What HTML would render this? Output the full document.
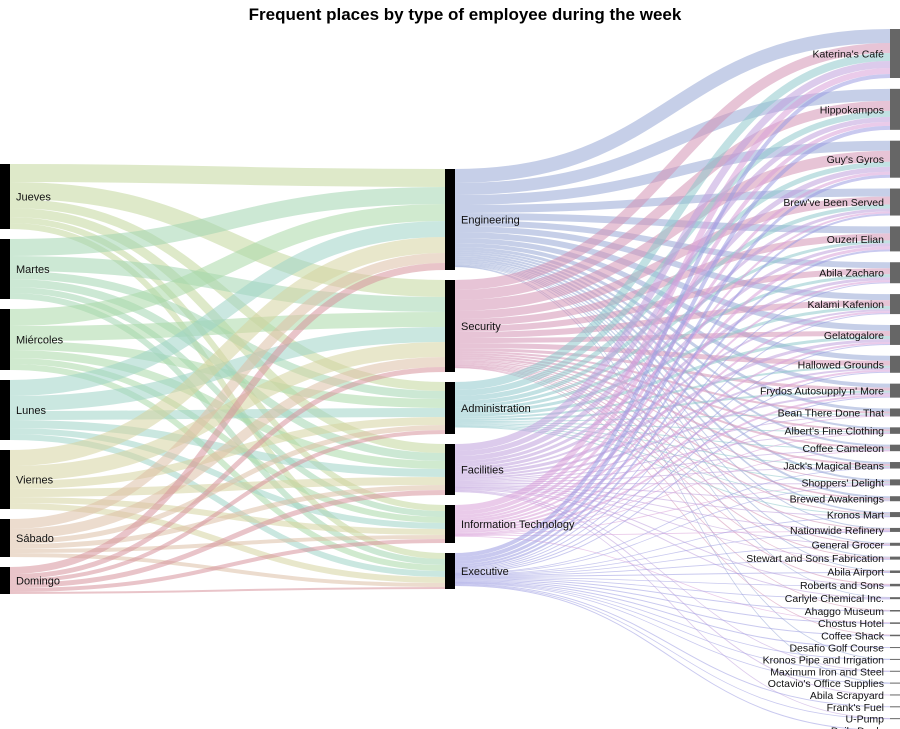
<!DOCTYPE html>
<html><head><meta charset="utf-8">
<style>
html,body{margin:0;padding:0;background:#fff;}
body{width:900px;height:729px;overflow:hidden;font-family:"Liberation Sans",sans-serif;}
#title{position:absolute;left:0;top:5px;width:930px;text-align:center;font-weight:bold;font-size:17px;color:#000;}
svg{position:absolute;left:0;top:0;}
</style></head><body>
<div id="title">Frequent places by type of employee during the week</div>
<svg id="chart" width="900" height="729"></svg>
<script>
const days = ["Jueves","Martes","Miércoles","Lunes","Viernes","Sábado","Domingo"];
const types = ["Engineering","Security","Administration","Facilities","Information Technology","Executive"];
const places = ["Katerina's Café","Hippokampos","Guy's Gyros","Brew've Been Served","Ouzeri Elian","Abila Zacharo","Kalami Kafenion","Gelatogalore","Hallowed Grounds","Frydos Autosupply n' More","Bean There Done That","Albert's Fine Clothing","Coffee Cameleon","Jack's Magical Beans","Shoppers' Delight","Brewed Awakenings","Kronos Mart","Nationwide Refinery","General Grocer","Stewart and Sons Fabrication","Abila Airport","Roberts and Sons","Carlyle Chemical Inc.","Ahaggo Museum","Chostus Hotel","Coffee Shack","Desafio Golf Course","Kronos Pipe and Irrigation","Maximum Iron and Steel","Octavio's Office Supplies","Abila Scrapyard","Frank's Fuel","U-Pump","Daily Dealz"];
// day -> type values (cols: Eng, Sec, Adm, Fac, IT, Exec)
const dayTypeValues = [
 [18,17,9,9,6,6],
 [17,15,8,8,6,6],
 [17,15,9,8,6,6],
 [16,15,9,8,6,6],
 [16,15,8,8,6,6],
 [10,10,5,5,4,4],
 [7,5,4,5,4,2]
];
// place rows, cols: Eng, Sec, Adm, Fac, IT, Exec
const placeTypeValues = [
 [14,10,8,7,6,4],[12,10,6,5,4,4],[10,11,5,5,3,3],[8,8,4,3,2,2],[7,7,3,3,3,2],
 [6,6,3,3,2,1],[6,6,3,2,2,1],[6,5,3,3,2,1],[5,5,2,2,2,1],[4,3,2,2,2,1],
 [3,2,1,1,1,0],[2,2,1,1,0.5,0],[2,2,1,1,0.5,0],[2,2,1,1,0,0.5],[2,1,1,1,0.5,0.5],
 [2,1.5,0.5,1,0,0],[1.5,1,1,1,0,0.5],[1,1,0,1,0.5,0.5],[1,1,0,0.5,0,0.5],[1,1,0,0.5,0,0.5],
 [1,0.5,0,0,0,1],[0,1,0,1,0,0.5],[0.5,0,0,1,0,0.5],[0,0.5,0,0,0,1],[0,0,0,0,0.5,1],
 [0,0.5,0,0,0,1],[0,0,0,0,0,1],[0.5,0,0,0,0,0.5],[0,0,0,0.5,0,0.5],[0.5,0,0,0,0,0.5],
 [0,0,0,1,0,0],[0,0,0,0,0,1],[0,0,0,0.5,0,0.5],[0,0,0,0,0,1]
];
const dayColors = ["#c3d79c","#a3d6b0","#aad8a8","#9fd3c6","#d5d3a0","#dcbfa6","#d7949c"];
const typeColors = ["#98a8d6","#d394b4","#90c9cc","#bfa0dc","#d9a0d8","#9c9ce2"];

const NS="http://www.w3.org/2000/svg";
const svg=document.getElementById('chart');
function mk(t,a){const e=document.createElementNS(NS,t);for(const k in a)e.setAttribute(k,a[k]);return e;}
const sum=a=>a.reduce((s,v)=>s+v,0);

const dayTot=dayTypeValues.map(r=>sum(r));
const typeIn=types.map((t,j)=>sum(dayTypeValues.map(r=>r[j])));
const typeOut=types.map((t,j)=>sum(placeTypeValues.map(r=>r[j])));
const typeTot=types.map((t,j)=>Math.max(typeIn[j],typeOut[j]));
const placeTot=placeTypeValues.map(r=>sum(r));
const ky=1;
function layout(tots,top,bottom){
  const h=tots.map(v=>v*ky);const gap=(bottom-top-sum(h))/(tots.length-1);
  let y=top;return h.map(hh=>{const r={y0:y,y1:y+hh};y+=hh+gap;return r;});
}
const L=layout(dayTot,164,594), M=layout(typeTot,169,589), R=layout(placeTot,29,731);
const xL=10,xM0=445,xM1=455,xR=890;

const gLinks=mk('g',{});svg.appendChild(gLinks);
function link(x0,y0,x1,y1,w,color,name){
  const xi=(x0+x1)/2;
  const p=mk('path',{d:`M${x0},${y0}C${xi},${y0} ${xi},${y1} ${x1},${y1}`,fill:'none',stroke:color,'stroke-width':Math.max(w,0.8),'stroke-opacity':0.55});
  
  
  gLinks.appendChild(p);
}
const srcOff=L.map(n=>n.y0), tgtOff=M.map(n=>n.y0);
for(let i=0;i<days.length;i++)for(let j=0;j<types.length;j++){
  const v=dayTypeValues[i][j]*ky;if(!v)continue;
  link(xL,srcOff[i]+v/2,xM0,tgtOff[j]+v/2,v,dayColors[i],'link-day-type');
  srcOff[i]+=v;tgtOff[j]+=v;
}
const mOff=M.map(n=>n.y0), rOff=R.map(n=>n.y0);
for(let j=0;j<types.length;j++)for(let k=0;k<places.length;k++){
  const v=placeTypeValues[k][j]*ky;if(!v)continue;
  link(xM1,mOff[j]+v/2,xR,rOff[k]+v/2,v,typeColors[j],'link-type-place');
  mOff[j]+=v;rOff[k]+=v;
}
function node(x,n,label,fill,lx,anchor,name,fs){
  const g=mk('g',{});
  const r=mk('rect',{x:x,y:n.y0,width:10,height:Math.max(n.y1-n.y0,1),fill:fill});
  
  
  g.appendChild(r);
  const t=mk('text',{x:lx,y:(n.y0+n.y1)/2+4,'font-size':fs,'text-anchor':anchor,fill:'#111','font-family':'Liberation Sans, sans-serif'});
  t.textContent=label;
  
  
  g.appendChild(t);svg.appendChild(g);
}
days.forEach((d,i)=>node(0,L[i],d,'#000',16,'start','day',11));
types.forEach((d,i)=>node(xM0,M[i],d,'#000',461,'start','type',11));
places.forEach((d,i)=>node(xR,R[i],d,'#666',884,'end','place',10.5));
</script>
</body></html>
